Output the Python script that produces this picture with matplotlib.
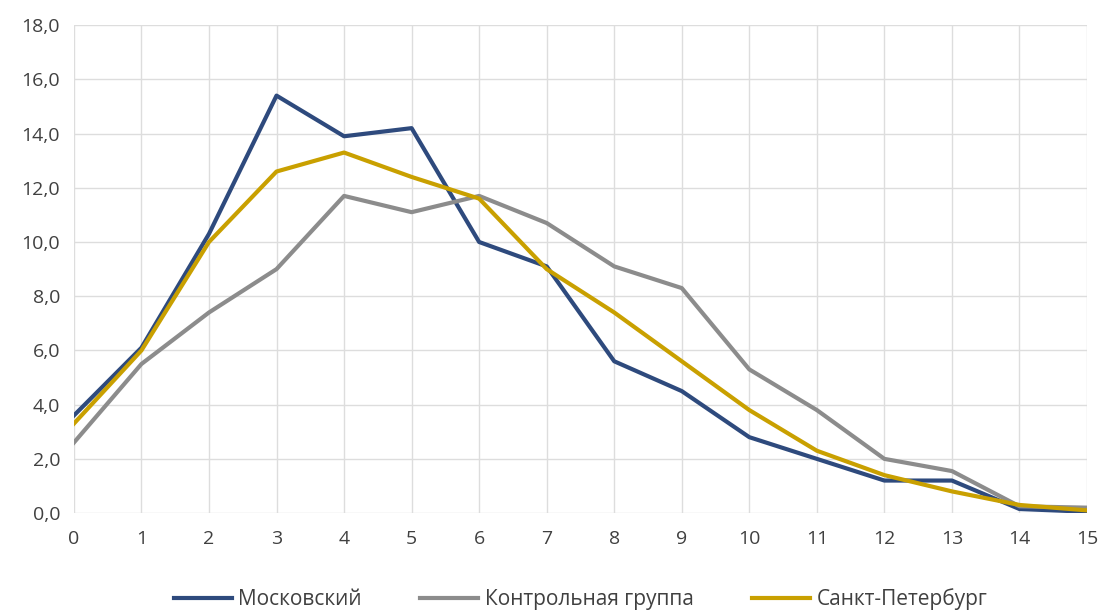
import matplotlib.pyplot as plt
from matplotlib.ticker import FuncFormatter

# данные
x = list(range(16))
moskovsky = [3.6, 6.1, 10.3, 15.4, 13.9, 14.2, 10.0, 9.1, 5.6, 4.5, 2.8, 2.0, 1.2, 1.2, 0.15, 0.05]
kontrol = [2.6, 5.5, 7.4, 9.0, 11.7, 11.1, 11.7, 10.7, 9.1, 8.3, 5.3, 3.8, 2.0, 1.55, 0.25, 0.2]
spb = [3.3, 6.0, 10.0, 12.6, 13.3, 12.4, 11.6, 9.0, 7.4, 5.6, 3.8, 2.3, 1.4, 0.8, 0.3, 0.1]
labels = ['Московский', 'Контрольная группа', 'Санкт-Петербург']

plt.rcParams['font.family'] = ['Open Sans', 'DejaVu Sans']

fig = plt.figure(figsize=(11.03, 6.13), dpi=100)
ax = fig.add_axes([0.067, 0.163, 0.9185, 0.796])

ax.plot(x, moskovsky, color='#2E4A7D', lw=3, label=labels[0])
ax.plot(x, kontrol, color='#8C8C8C', lw=3, label=labels[1])
ax.plot(x, spb, color='#C9A000', lw=3, label=labels[2])

ax.set_xlim(0, 15)
ax.set_ylim(0, 18)
ax.set_xticks(x)
ax.set_yticks(range(0, 19, 2))
ax.yaxis.set_major_formatter(FuncFormatter(lambda v, p: f'{v:.1f}'.replace('.', ',')))
ax.grid(True, color='#DDDDDD', lw=1)
ax.set_axisbelow(True)
for s in ax.spines.values():
    s.set_visible(False)
ax.tick_params(length=0, labelsize=14, colors='#404040', pad=12)
ax.tick_params(axis='y', pad=10)

ax.legend(loc='upper center', bbox_to_anchor=(0.5, -0.115), ncol=3, frameon=False,
          fontsize=15, handlelength=2.8, columnspacing=2.8, handletextpad=0.3)
for t in ax.get_legend().get_texts():
    t.set_color('#404040')

fig.savefig('out.png', dpi=100)
